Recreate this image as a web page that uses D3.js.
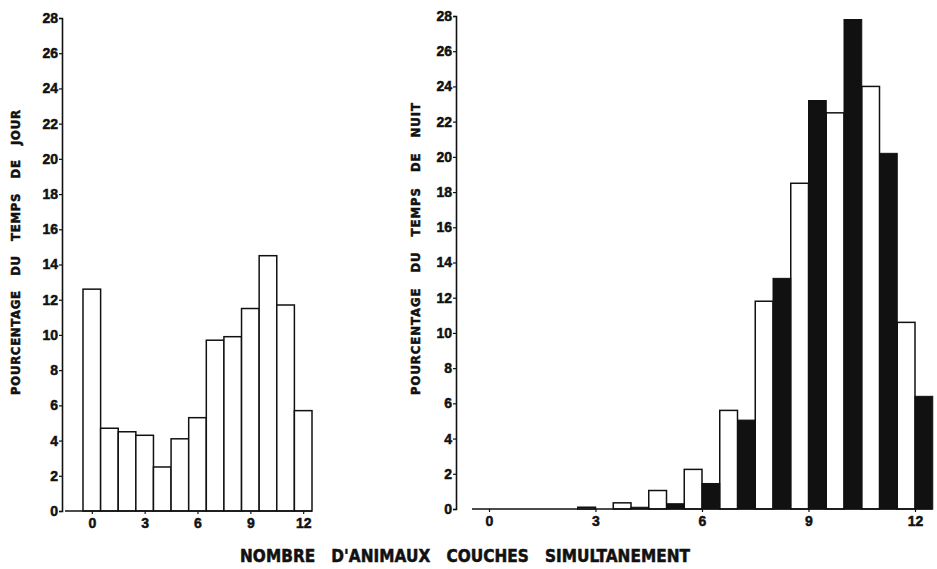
<!DOCTYPE html>
<html><head><meta charset="utf-8">
<script src="https://cdn.jsdelivr.net/npm/d3@7"></script>
<style>
html,body{margin:0;padding:0;background:#fff;}
svg{display:block;}
.title{font-family:"DejaVu Sans Condensed","DejaVu Sans",sans-serif;font-stretch:condensed;font-weight:bold;fill:#111;stroke:#111;stroke-width:0.5px;white-space:pre;}
</style></head><body>
<svg id="c" width="937" height="569"></svg>
<script>
// ---- data ----
const categories = [0,1,2,3,4,5,6,7,8,9,10,11,12];
const dayValues   = [12.6,4.7,4.5,4.3,2.5,4.1,5.3,9.7,9.9,11.5,14.5,11.7,5.7];
const nightWhite  = [0,0,0,0.1,0.35,1.05,2.25,5.6,11.8,18.5,22.5,24.0,10.6];
const nightBlack  = [0,0,0,0,0.1,0.3,1.45,5.05,13.1,23.2,27.8,20.2,6.4];
const yTickValues = [0,2,4,6,8,10,12,14,16,18,20,22,24,26,28];
const xTickValues = [0,3,6,9,12];
const yTitleDay   = "POURCENTAGE   DU   TEMPS   DE   JOUR";
const yTitleNight = "POURCENTAGE   DU   TEMPS   DE   NUIT";
const xTitle      = "NOMBRE   D'ANIMAUX   COUCHES   SIMULTANEMENT";

const svg = d3.select("#c");
const ink = "#111";

function styleTicks(g){
  g.attr("font-size",null).attr("font-family",null);
  g.selectAll(".tick text")
   .style("font-family","'Liberation Sans', Arial, sans-serif")
   .style("font-weight","bold").style("font-size","14px")
   .attr("fill",ink).attr("stroke",ink).attr("stroke-width",0.5);
  g.selectAll(".tick line").attr("stroke",ink).attr("stroke-width",1.2);
}
function yAxis(g, y, x0){
  g.attr("transform",`translate(${x0},0)`)
   .call(d3.axisLeft(y).tickValues(yTickValues).tickSize(3).tickPadding(1).tickFormat(d3.format("d")));
  g.select(".domain").attr("stroke",ink).attr("stroke-width",1.6);
  styleTicks(g);
}
function xAxis(g, x, y0, xStart, xEnd){
  g.attr("transform",`translate(0,${y0})`)
   .call(d3.axisBottom(x).tickValues(xTickValues).tickSize(3).tickPadding(4).tickFormat(d3.format("d")));
  g.select(".domain").remove();
  g.append("line").attr("x1",xStart).attr("x2",xEnd).attr("y1",0).attr("y2",0)
   .attr("stroke",ink).attr("stroke-width",1.6);
  styleTicks(g);
}

// ---- left chart (jour) ----
const yL = d3.scaleLinear().domain([0,28]).range([511,18]);
const xL = d3.scaleLinear().domain([-0.5,12.5]).range([83,312]);
const axL = 62;

svg.append("g").selectAll("rect").data(categories).join("rect")
  .attr("x", d => xL(d-0.5))
  .attr("width", d => xL(d+0.5)-xL(d-0.5))
  .attr("y", (d,i) => yL(dayValues[i]))
  .attr("height", (d,i) => yL(0)-yL(dayValues[i]))
  .attr("fill","#fff").attr("stroke",ink).attr("stroke-width",1.5);

svg.append("g").call(g => xAxis(g, xL, yL(0), axL+3, xL(12.5)));
svg.append("g").call(g => yAxis(g, yL, axL));

svg.append("text").attr("class","title")
  .attr("transform",`translate(20,${(110+395)/2}) rotate(-90)`)
  .attr("text-anchor","middle").attr("font-size",13)
  .attr("textLength",285).attr("lengthAdjust","spacing")
  .text(yTitleDay);

// ---- right chart (nuit) ----
const yR = d3.scaleLinear().domain([0,28]).range([509,16]);
const xR = d3.scaleLinear().domain([0,12]).range([489,915]);
const axR = 456;

svg.append("g").selectAll("rect").data(categories).join("rect")
  .attr("x", d => xR(d-0.5))
  .attr("width", d => xR(d)-xR(d-0.5))
  .attr("y", (d,i) => yR(nightWhite[i]))
  .attr("height", (d,i) => yR(0)-yR(nightWhite[i]))
  .attr("fill","#fff").attr("stroke",ink).attr("stroke-width",1.5)
  .attr("display",(d,i)=> nightWhite[i] > 0 ? null : "none");

svg.append("g").selectAll("rect").data(categories).join("rect")
  .attr("x", d => xR(d))
  .attr("width", d => xR(d+0.5)-xR(d))
  .attr("y", (d,i) => yR(nightBlack[i]))
  .attr("height", (d,i) => yR(0)-yR(nightBlack[i]))
  .attr("fill",ink).attr("stroke",ink).attr("stroke-width",1)
  .attr("display",(d,i)=> nightBlack[i] > 0 ? null : "none");

svg.append("g").call(g => xAxis(g, xR, yR(0), 472, xR(12.5)));
svg.append("g").call(g => yAxis(g, yR, axR));

svg.append("text").attr("class","title")
  .attr("transform",`translate(420,${(103+395)/2}) rotate(-90)`)
  .attr("text-anchor","middle").attr("font-size",13)
  .attr("textLength",292).attr("lengthAdjust","spacing")
  .text(yTitleNight);

// ---- shared x title ----
svg.append("text").attr("class","title")
  .attr("x",465).attr("y",562)
  .attr("text-anchor","middle").attr("font-size",17)
  .attr("textLength",450).attr("lengthAdjust","spacing")
  .text(xTitle);
</script>
</body></html>
